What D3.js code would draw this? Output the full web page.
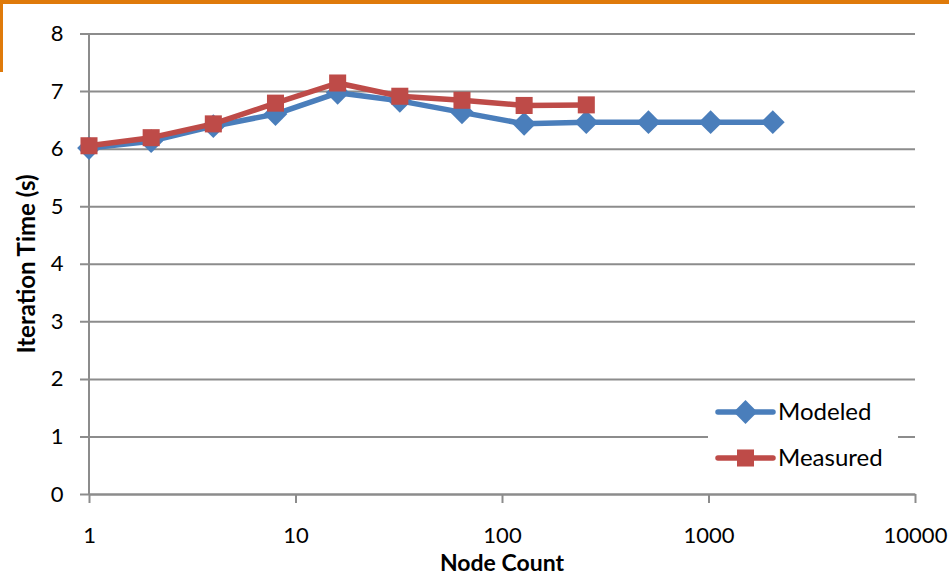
<!DOCTYPE html>
<html>
<head>
<meta charset="utf-8">
<script src="https://cdn.jsdelivr.net/npm/d3@7/dist/d3.min.js"></script>
<style>
  html, body { margin: 0; padding: 0; background: #fff; }
  svg { display: block; font-family: Lato, "Open Sans", sans-serif; }
</style>
</head>
<body>
<svg id="chart" width="949" height="575"></svg>
<script>
// Node counts (powers of two) and iteration times in seconds
const modeledNodes = [1, 2, 4, 8, 16, 32, 64, 128, 256, 512, 1024, 2048];
const modeledTimes = [6.01, 6.13, 6.39, 6.60, 6.97, 6.83, 6.63, 6.43, 6.46, 6.46, 6.46, 6.46];
const measuredNodes = [1, 2, 4, 8, 16, 32, 64, 128, 256];
const measuredTimes = [6.05, 6.19, 6.43, 6.79, 7.14, 6.91, 6.84, 6.75, 6.76];
const xTicks = [1, 10, 100, 1000, 10000];
const yTicks = [0, 1, 2, 3, 4, 5, 6, 7, 8];
const seriesNames = ["Modeled", "Measured"];

const svg = d3.select("#chart");
const gray = "#8c8c8c";
const blue = "#4a7ebb";
const red = "#be4b48";

// frame accent in the corner
svg.append("rect").attr("x", 0).attr("y", 0).attr("width", 949).attr("height", 4).attr("fill", "#df7a0a");
svg.append("rect").attr("x", 0).attr("y", 0).attr("width", 3).attr("height", 72).attr("fill", "#df7a0a");

const plotLeft = 89, plotRight = 915, plotTop = 33.5, plotBottom = 494;
const x = d3.scaleLog().domain([1, 10000]).range([plotLeft, plotRight]);
const y = d3.scaleLinear().domain([0, 8]).range([plotBottom, plotTop]);

// horizontal gridlines via left axis
const yAxis = svg.append("g")
  .attr("transform", `translate(${plotLeft},0)`)
  .call(d3.axisLeft(y).tickValues(yTicks).tickSizeInner(-(plotRight - plotLeft)).tickSizeOuter(0).tickPadding(25.5));
yAxis.select(".domain").remove();
yAxis.selectAll(".tick line")
  .attr("x1", -9)
  .attr("stroke", gray).attr("stroke-width", 2);
yAxis.selectAll(".tick text")
  .attr("font-size", 22).attr("fill", "#000").attr("font-family", "Lato, sans-serif");

// left vertical axis line
svg.append("line").attr("x1", plotLeft).attr("x2", plotLeft).attr("y1", plotTop).attr("y2", plotBottom)
  .attr("stroke", gray).attr("stroke-width", 2);

// bottom axis with decade ticks
const xAxis = svg.append("g")
  .attr("transform", `translate(0,${plotBottom})`)
  .call(d3.axisBottom(x).tickValues(xTicks).tickFormat(d3.format("d")).tickSizeInner(9).tickSizeOuter(0).tickPadding(24));
xAxis.select(".domain").attr("stroke", gray).attr("stroke-width", 2);
xAxis.selectAll(".tick line").attr("stroke", gray).attr("stroke-width", 2);
xAxis.selectAll(".tick text")
  .attr("font-size", 22).attr("fill", "#000").attr("font-family", "Lato, sans-serif");

// axis titles
svg.append("text")
  .attr("x", (plotLeft + plotRight) / 2).attr("y", 571)
  .attr("text-anchor", "middle").attr("font-weight", "bold").attr("font-size", 23)
  .text("Node Count");
svg.append("text")
  .attr("transform", `translate(35,264) rotate(-90)`)
  .attr("text-anchor", "middle").attr("font-weight", "bold").attr("font-size", 24)
  .text("Iteration Time (s)");

// legend backing
svg.append("rect").attr("x", 708).attr("y", 388).attr("width", 190).attr("height", 96).attr("fill", "#fff");

const line = d3.line().x(d => x(d[0])).y(d => y(d[1]));
const modeled = modeledNodes.map((n, i) => [n, modeledTimes[i]]);
const measured = measuredNodes.map((n, i) => [n, measuredTimes[i]]);

const diamond = d3.symbol().type(d3.symbolDiamond2).size(360);
const square = d3.symbol().type(d3.symbolSquare2).size(370);

// Modeled series
svg.append("path").datum(modeled).attr("d", line)
  .attr("fill", "none").attr("stroke", blue).attr("stroke-width", 5.5).attr("stroke-linejoin", "round");
svg.selectAll(".mod").data(modeled).enter().append("path")
  .attr("transform", d => `translate(${x(d[0])},${y(d[1])})`)
  .attr("d", diamond).attr("fill", blue);

// Measured series
svg.append("path").datum(measured).attr("d", line)
  .attr("fill", "none").attr("stroke", red).attr("stroke-width", 5.5).attr("stroke-linejoin", "round");
svg.selectAll(".mea").data(measured).enter().append("path")
  .attr("transform", d => `translate(${x(d[0])},${y(d[1])})`)
  .attr("d", square).attr("fill", red);

// legend entries
const legendItems = [
  { name: seriesNames[0], color: blue, sym: diamond, y: 412 },
  { name: seriesNames[1], color: red, sym: square, y: 458 }
];
legendItems.forEach(it => {
  svg.append("line").attr("x1", 718).attr("x2", 773).attr("y1", it.y).attr("y2", it.y)
    .attr("stroke", it.color).attr("stroke-width", 5.5).attr("stroke-linecap", "round");
  svg.append("path").attr("transform", `translate(745.5,${it.y})`).attr("d", it.sym).attr("fill", it.color);
  svg.append("text").attr("x", 778).attr("y", it.y).attr("dy", "0.35em")
    .attr("font-size", 24).text(it.name);
});
</script>
</body>
</html>
